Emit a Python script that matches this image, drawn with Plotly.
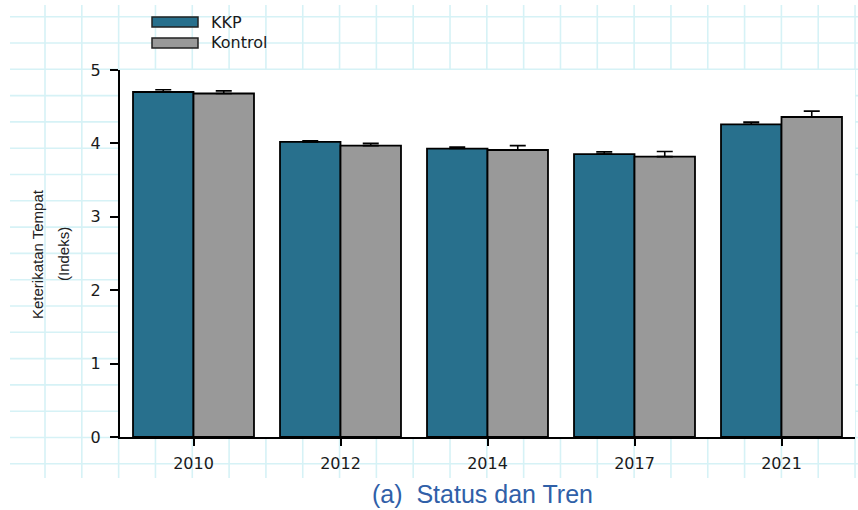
import plotly.graph_objects as go

# ---- data ----
years = ["2010", "2012", "2014", "2017", "2021"]
series_names = ["KKP", "Kontrol"]
kkp_values = [4.70, 4.02, 3.93, 3.855, 4.26]
kkp_errors = [0.03, 0.015, 0.02, 0.03, 0.03]
kontrol_values = [4.68, 3.97, 3.91, 3.82, 4.36]
kontrol_errors = [0.035, 0.03, 0.06, 0.07, 0.08]
y_ticks = [0, 1, 2, 3, 4, 5]
y_title_lines = ["Keterikatan Tempat", "(Indeks)"]
caption = "(a)  Status dan Tren"

# ---- layout constants ----
W, H = 858, 510
ML, MR, MT, MB = 120, 3, 70, 73
PW, PH = W - ML - MR, H - MT - MB

def px(x):
    return (x - ML) / PW

def py(y):
    return (H - MB - y) / PH

KKP_COLOR = "#28708d"
KON_COLOR = "#999999"
GRID_COLOR = "#d6f2f6"
TICK_FONT = dict(family="DejaVu Sans", size=16, color="#1a1a1a")

fig = go.Figure()
fig.add_trace(go.Bar(
    x=years, y=kkp_values, name=series_names[0],
    marker=dict(color=KKP_COLOR, line=dict(color="black", width=1.8)),
    error_y=dict(type="data", array=kkp_errors, arrayminus=[0] * len(years),
                 symmetric=False, color="black", thickness=1.6, width=8),
))
fig.add_trace(go.Bar(
    x=years, y=kontrol_values, name=series_names[1],
    marker=dict(color=KON_COLOR, line=dict(color="black", width=1.8)),
    error_y=dict(type="data", array=kontrol_errors, arrayminus=[0] * len(years),
                 symmetric=False, color="black", thickness=1.6, width=8),
))

shapes = []
# graph-paper background grid
for k in range(23):
    xv = 45 + 36.82 * k
    shapes.append(dict(type="line", xref="paper", yref="paper", layer="below",
                       x0=px(xv), x1=px(xv), y0=py(5), y1=py(478),
                       line=dict(color=GRID_COLOR, width=1.6)))
for k in range(18):
    yv = 16.7 + 26.3 * k
    shapes.append(dict(type="line", xref="paper", yref="paper", layer="below",
                       x0=px(10), x1=px(858), y0=py(yv), y1=py(yv),
                       line=dict(color=GRID_COLOR, width=1.6)))
# white plotting area
shapes.append(dict(type="rect", xref="paper", yref="paper", layer="below",
                   x0=0, x1=1, y0=0, y1=1, fillcolor="white",
                   line=dict(width=0)))
# custom legend boxes
for i, col in enumerate([KKP_COLOR, KON_COLOR]):
    top = 17 + 21 * i
    shapes.append(dict(type="rect", xref="paper", yref="paper", layer="above",
                       x0=px(152), x1=px(198), y0=py(top), y1=py(top + 10),
                       fillcolor=col, line=dict(color="#222", width=1.5)))

annotations = []
for i, nm in enumerate(series_names):
    annotations.append(dict(text=nm, xref="paper", yref="paper",
                            x=px(209), y=py(22 + 21 * i), xanchor="left",
                            yanchor="middle", showarrow=False, font=TICK_FONT))
for i, line in enumerate(y_title_lines):
    annotations.append(dict(text=line, xref="paper", yref="paper",
                            x=px(37 + 26 * i), y=py(254), xanchor="center",
                            yanchor="middle", textangle=-90, showarrow=False,
                            font=dict(family="Liberation Sans, Arial", size=15,
                                      color="#222")))
annotations.append(dict(text=caption, xref="paper", yref="paper",
                        x=px(370), y=py(494), xanchor="left", yanchor="middle",
                        showarrow=False,
                        font=dict(family="Liberation Sans, Arial", size=25,
                                  color="#3060a8")))

fig.update_layout(
    width=W, height=H,
    margin=dict(l=ML, r=MR, t=MT, b=MB, autoexpand=False),
    paper_bgcolor="white", plot_bgcolor="white",
    barmode="group", bargap=0.177, bargroupgap=0,
    showlegend=False,
    shapes=shapes, annotations=annotations,
    xaxis=dict(type="category", range=[-0.5, 4.5], showgrid=False,
               showline=True, linecolor="black", linewidth=2,
               ticks="outside", ticklen=7, tickwidth=2, tickcolor="black",
               tickfont=TICK_FONT, ticklabelstandoff=4),
    yaxis=dict(range=[0, 5], tickvals=y_ticks, showgrid=False, zeroline=False,
               showline=True, linecolor="black", linewidth=2,
               ticks="outside", ticklen=8, tickwidth=1.5, tickcolor="black",
               tickfont=TICK_FONT, ticklabelstandoff=6),
)

fig.write_html("out.html",
               config={"displayModeBar": False},
               post_script="document.body.style.margin='0';"
                           "document.body.style.padding='0';")
